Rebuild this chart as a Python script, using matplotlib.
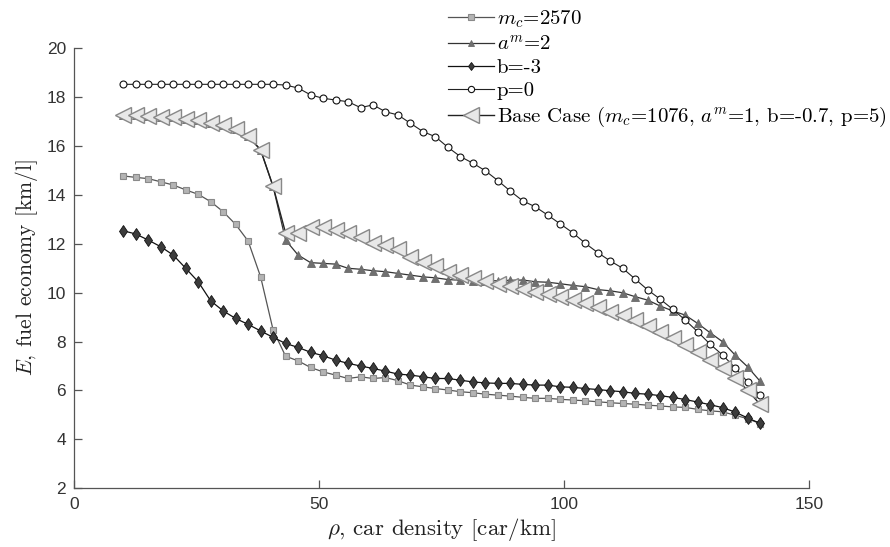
import numpy as np
import matplotlib
matplotlib.use('Agg')
import matplotlib.pyplot as plt

plt.rcParams['mathtext.fontset'] = 'cm'
plt.rcParams['font.family'] = ['Liberation Sans', 'DejaVu Sans']

# car density grid [car/km]
rho = np.linspace(10, 140, 52)

E_mc = [14.76, 14.70, 14.65, 14.52, 14.39, 14.19, 14.01, 13.71, 13.30, 12.78,
        12.10, 10.64, 8.47, 7.40, 7.21, 6.94, 6.76, 6.63, 6.49, 6.56,
        6.49, 6.53, 6.40, 6.22, 6.15, 6.08, 6.02, 5.95, 5.91, 5.85,
        5.81, 5.77, 5.72, 5.68, 5.68, 5.64, 5.61, 5.58, 5.54, 5.50,
        5.47, 5.44, 5.40, 5.37, 5.33, 5.31, 5.23, 5.17, 5.13, 4.99,
        4.85, 4.65]

E_base = [17.25, 17.25, 17.22, 17.18, 17.16, 17.09, 17.05, 16.94, 16.84, 16.68,
          16.39, 15.82, 14.33, 12.43, 12.42, 12.69, 12.69, 12.55, 12.44, 12.28,
          12.03, 11.94, 11.76, 11.46, 11.26, 11.10, 10.85, 10.71, 10.58, 10.48,
          10.35, 10.26, 10.13, 10.03, 9.93, 9.80, 9.68, 9.56, 9.40, 9.21,
          9.08, 8.88, 8.63, 8.40, 8.13, 7.85, 7.58, 7.24, 6.90, 6.49,
          6.02, 5.43]

E_am = [17.25, 17.25, 17.22, 17.18, 17.16, 17.09, 17.05, 16.94, 16.84, 16.68,
        16.39, 15.82, 14.33, 12.14, 11.53, 11.22, 11.19, 11.16, 10.99, 10.95,
        10.89, 10.85, 10.78, 10.71, 10.64, 10.60, 10.53, 10.50, 10.49, 10.48,
        10.48, 10.50, 10.51, 10.44, 10.42, 10.36, 10.29, 10.24, 10.12, 10.07,
        9.99, 9.83, 9.69, 9.45, 9.25, 9.08, 8.74, 8.36, 7.99, 7.45,
        6.97, 6.38]

E_b = [12.52, 12.39, 12.14, 11.87, 11.53, 10.99, 10.44, 9.66, 9.25, 8.94,
       8.70, 8.43, 8.17, 7.92, 7.76, 7.56, 7.42, 7.24, 7.11, 7.00,
       6.90, 6.79, 6.67, 6.63, 6.56, 6.49, 6.49, 6.42, 6.35, 6.31,
       6.29, 6.29, 6.25, 6.22, 6.22, 6.15, 6.13, 6.08, 6.04, 5.99,
       5.95, 5.88, 5.85, 5.79, 5.72, 5.63, 5.53, 5.42, 5.30, 5.12,
       4.88, 4.66]

E_p = [18.5, 18.5, 18.5, 18.5, 18.5, 18.5, 18.5, 18.5, 18.5, 18.5,
       18.5, 18.5, 18.5, 18.47, 18.35, 18.07, 17.93, 17.86, 17.79, 17.55,
       17.66, 17.38, 17.25, 16.91, 16.57, 16.36, 15.93, 15.55, 15.28, 14.97,
       14.57, 14.14, 13.74, 13.50, 13.16, 12.80, 12.44, 12.01, 11.63, 11.29,
       10.99, 10.55, 10.11, 9.73, 9.32, 8.88, 8.40, 7.89, 7.45, 6.93,
       6.35, 5.81]

labels = [r'$m_c$=2570',
          r'$a^m$=2',
          'b=-3',
          'p=0',
          r'Base Case ($m_c$=1076, $a^m$=1, b=-0.7, p=5)']

fig = plt.figure(figsize=(8.9, 5.47), dpi=100)
ax = fig.add_axes([0.0835, 0.107, 0.8255, 0.806])

ax.plot(rho, E_mc, color='#555555', lw=0.9, marker='s', ms=4.2,
        mfc='#b4b4b4', mec='#8a8a8a', mew=0.8, label=labels[0])
ax.plot(rho, E_am, color='#333333', lw=0.9, marker='^', ms=5.5,
        mfc='#707070', mec='#6a6a6a', mew=0.6, label=labels[1])
ax.plot(rho, E_b, color='#111111', lw=0.9, marker='d', ms=6,
        mfc='#3c3c3c', mec='#111111', mew=0.6, label=labels[2])
ax.plot(rho, E_p, color='#222222', lw=0.8, marker='o', ms=5.0,
        mfc='white', mec='#111111', mew=0.8, label=labels[3])
ax.plot(rho, E_base, color='#222222', lw=1.0, marker='<', ms=11,
        mfc='#e8e8e8', mec='#888888', mew=1.0, label=labels[4])

ax.set_xlim(0, 150)
ax.set_ylim(2, 20)
ax.set_xticks([0, 50, 100, 150])
ax.set_yticks(np.arange(2, 21, 2))

for side in ['top', 'right']:
    ax.spines[side].set_visible(False)
for side in ['left', 'bottom']:
    ax.spines[side].set_color('#555555')
    ax.spines[side].set_linewidth(0.9)
ax.tick_params(direction='in', length=6, width=0.9, color='#555555',
               labelsize=12.5, labelcolor='#333333', pad=6)

ax.set_xlabel(r'$\rho$, car density [car/km]', fontsize=16.5, color='#222222',
              family='cmr10', labelpad=3)
ax.set_ylabel(r'$E$, fuel economy [km/l]', fontsize=15.5, color='#222222',
              family='cmr10', labelpad=5)

leg = ax.legend(loc='upper left', bbox_to_anchor=(0.494, 1.0),
                bbox_transform=fig.transFigure, frameon=False,
                prop={'family': 'cmr10', 'size': 15},
                handlelength=2.2, handletextpad=0.15, labelspacing=0.22,
                borderaxespad=0, markerscale=1.0)
for h in leg.legend_handles[:4]:
    h.set_markersize(4.5)
leg.legend_handles[4].set_markersize(11)

fig.savefig('out.png', dpi=100)
